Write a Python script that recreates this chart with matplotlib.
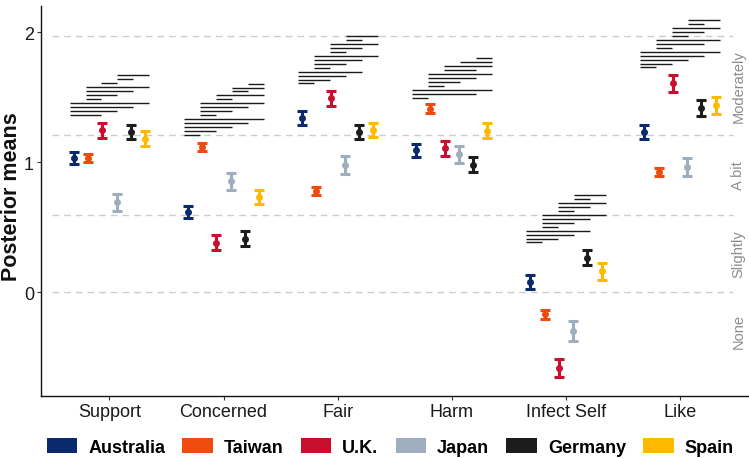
import numpy as np
import matplotlib
matplotlib.use("Agg")
import matplotlib.pyplot as plt
from matplotlib.patches import Patch

plt.rcParams['font.family'] = ['Liberation Sans', 'DejaVu Sans']

# --- Data ---
measures = ["Support", "Concerned", "Fair", "Harm", "Infect Self", "Like"]
countries = ["Australia", "Taiwan", "U.K.", "Japan", "Germany", "Spain"]
colors = ["#0B2A6E", "#EE4B0E", "#C8102E", "#9FAEBE", "#1C1C1C", "#FFBA00"]

# posterior means, one row per measure, columns in country order
post_mean = [
    [1.03, 1.03, 1.245, 0.69, 1.23, 1.18],
    [0.617, 1.115, 0.38, 0.853, 0.41, 0.73],
    [1.34, 0.78, 1.49, 0.977, 1.23, 1.245],
    [1.09, 1.41, 1.105, 1.06, 0.98, 1.24],
    [0.077, -0.172, -0.586, -0.30, 0.265, 0.16],
    [1.23, 0.923, 1.605, 0.96, 1.415, 1.435],
]
# half-width of the credible intervals
post_half = [
    [0.045, 0.030, 0.058, 0.065, 0.053, 0.057],
    [0.047, 0.029, 0.056, 0.065, 0.056, 0.056],
    [0.052, 0.030, 0.059, 0.066, 0.056, 0.056],
    [0.052, 0.035, 0.059, 0.065, 0.056, 0.059],
    [0.056, 0.035, 0.071, 0.075, 0.061, 0.065],
    [0.052, 0.032, 0.065, 0.069, 0.062, 0.064],
]

# significant pairwise differences (country index pairs)
sig_pairs = [
    [(0, 2), (0, 3), (0, 4), (0, 5), (1, 2), (1, 3), (1, 4), (1, 5), (2, 3), (3, 4), (3, 5)],
    [(0, 1), (0, 2), (0, 3), (0, 4), (0, 5), (1, 2), (1, 3), (1, 4), (1, 5), (2, 3), (2, 5),
     (3, 4), (3, 5), (4, 5)],
    [(0, 1), (0, 2), (0, 3), (0, 4), (1, 2), (1, 3), (1, 4), (1, 5), (2, 3), (2, 4), (2, 5),
     (3, 4), (3, 5)],
    [(0, 1), (0, 4), (0, 5), (1, 2), (1, 3), (1, 4), (1, 5), (2, 4), (2, 5), (3, 5), (4, 5)],
    [(0, 1), (0, 2), (0, 3), (0, 4), (1, 2), (1, 3), (1, 4), (1, 5), (2, 3), (2, 4), (2, 5),
     (3, 4), (3, 5)],
    [(0, 1), (0, 2), (0, 3), (0, 4), (0, 5), (1, 2), (1, 4), (1, 5), (2, 3), (2, 4), (2, 5),
     (3, 4), (3, 5)],
]
sig_base = [1.362, 1.208, 1.604, 1.496, 0.381, 1.727]
sig_step = 0.0304

# ordinal thresholds and their labels
thresholds = [0.0, 0.591, 1.208, 1.969]
thr_labels = ["None", "Slightly", "A bit", "Moderately"]

# --- Figure ---
fig = plt.figure(figsize=(7.49, 4.60), dpi=100)
ax = fig.add_axes([41 / 749, 63 / 460, (748.5 - 41) / 749, 390 / 460])

x = np.arange(1, len(measures) + 1)
dodge = 0.125
sig_dodge = 0.14

# threshold lines + labels
for t in thresholds:
    ax.plot([0.5, 6.46], [t, t], color="#CCCCCC", lw=1.0, dashes=(4.8, 3.6), zorder=1)
label_y = [thresholds[0] - (thresholds[1] - thresholds[0]) / 2]
label_y += [(thresholds[i] + thresholds[i + 1]) / 2 for i in range(len(thresholds) - 1)]
for lab, yy in zip(thr_labels, label_y):
    ax.text(6.512, yy, lab, rotation=90, ha="center", va="center",
            color="#8C8C8C", fontsize=10.5)

# error bars per country
for c, (name, col) in enumerate(zip(countries, colors)):
    xs = x + (c - 2.5) * dodge
    m = [row[c] for row in post_mean]
    h = [row[c] for row in post_half]
    ax.errorbar(xs, m, yerr=h, fmt="o", color=col, ms=4.0, elinewidth=2.2,
                capsize=3.6, capthick=2.2, zorder=3)

# significance lines
for g, pairs in enumerate(sig_pairs):
    for k, (i, j) in enumerate(pairs):
        yy = sig_base[g] + k * sig_step
        x0 = x[g] + (i - 2.5) * sig_dodge
        x1 = x[g] + (j - 2.5) * sig_dodge
        ax.plot([x0, x1], [yy, yy], color="#1A1A1A", lw=1.0, solid_capstyle="butt", zorder=2)

ax.set_xlim(0.4, 6.6)
ax.set_ylim(-0.8, 2.2)
ax.set_xticks(x)
ax.set_xticklabels(measures)
ax.set_yticks([0, 1, 2])
ax.tick_params(axis="both", length=3, width=0.8, color="#333333",
               labelsize=13, labelcolor="#1A1A1A", pad=2)
for s in ["top", "right"]:
    ax.spines[s].set_visible(False)
for s in ["left", "bottom"]:
    ax.spines[s].set_linewidth(1.0)
    ax.spines[s].set_color("#111111")

fig.text(1 / 749, 1 - 197 / 460, "Posterior means", rotation=90, ha="left", va="center",
         fontsize=15.5, fontweight="bold", color="#111111")

handles = [Patch(facecolor=col, edgecolor="none") for col in colors]
fig.legend(handles, countries, loc="center", bbox_to_anchor=(0.521, 0.026), ncol=6,
           frameon=False, prop={"weight": "bold", "size": 13},
           handlelength=1.7, handleheight=0.85, handletextpad=0.6, columnspacing=0.95)

fig.savefig("out.png", dpi=100)
